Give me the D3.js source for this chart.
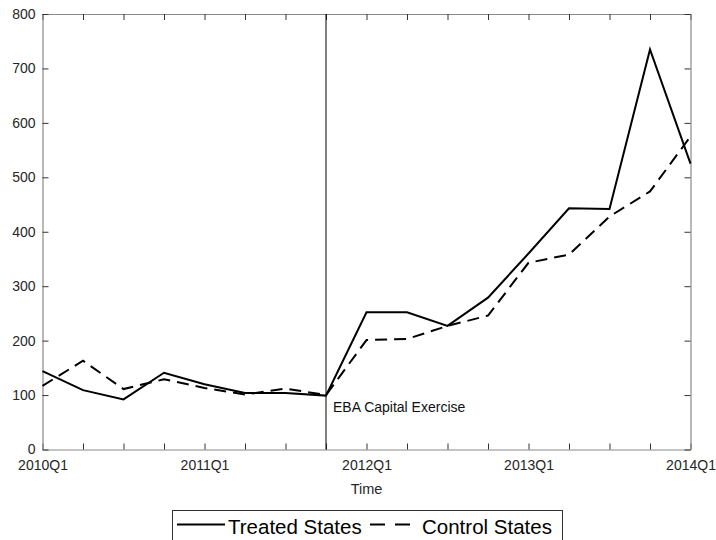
<!DOCTYPE html>
<html>
<head>
<meta charset="utf-8">
<script src="https://cdn.jsdelivr.net/npm/d3@7"></script>
<style>
  body { margin: 0; background: #fff; }
  text { font-family: "Liberation Sans", Arial, sans-serif; }
</style>
</head>
<body>
<div id="chart"></div>
<script>
const quarters = ["2010Q1","2010Q2","2010Q3","2010Q4","2011Q1","2011Q2","2011Q3","2011Q4",
                  "2012Q1","2012Q2","2012Q3","2012Q4","2013Q1","2013Q2","2013Q3","2013Q4","2014Q1"];
const treated = [144, 109, 92, 141, 120, 104, 104, 99, 252, 252, 227, 279, 360, 443, 442, 735, 525];
const control = [117, 163, 111, 129, 113, 101, 112, 100, 201, 203, 227, 246, 343, 358, 428, 474, 575];
const yTicks = [0, 100, 200, 300, 400, 500, 600, 700, 800];
const eventQuarter = "2011Q4";

function createLineChart() {
    const w = 716, h = 540;
    const left = 42.5, right = 690.5, top = 14, bottom = 449.5;

    const svg = d3.select("#chart").append("svg")
        .attr("width", w).attr("height", h);

    const x = d3.scaleLinear().domain([0, quarters.length - 1]).range([left, right]);
    const y = d3.scaleLinear().domain([0, 800]).range([bottom, top]);

    const idx = d3.range(quarters.length);
    const fmt = i => quarters[i].endsWith("Q1") ? quarters[i] : "";

    /* AXES */
    const styleAxis = g => {
        g.select(".domain").attr("stroke", "#8a8a8a").attr("stroke-width", 1.2);
        g.selectAll(".tick line").attr("stroke", "#333");
        g.selectAll(".tick text").attr("fill", "#262626").style("font-size", "14px");
    };

    svg.append("g").attr("transform", `translate(0,${bottom})`)
        .call(d3.axisBottom(x).tickValues(idx).tickFormat(fmt).tickSize(-6).tickSizeOuter(0).tickPadding(11))
        .call(styleAxis);
    svg.append("g").attr("transform", `translate(0,${top})`)
        .call(d3.axisTop(x).tickValues(idx).tickFormat("").tickSize(-6).tickSizeOuter(0))
        .call(styleAxis);
    svg.append("g").attr("transform", `translate(${left},0)`)
        .call(d3.axisLeft(y).tickValues(yTicks).tickSize(-6).tickSizeOuter(0).tickPadding(7))
        .call(styleAxis);
    svg.append("g").attr("transform", `translate(${right},0)`)
        .call(d3.axisRight(y).tickValues(yTicks).tickFormat("").tickSize(-6).tickSizeOuter(0))
        .call(styleAxis);

    /* EVENT LINE */
    const ev = x(quarters.indexOf(eventQuarter));
    svg.append("line")
        .attr("x1", ev).attr("x2", ev).attr("y1", top).attr("y2", bottom)
        .attr("stroke", "#000").attr("stroke-width", 1);
    svg.append("text")
        .attr("x", ev + 7).attr("y", 411.5)
        .style("font-size", "14px").attr("fill", "#111")
        .text("EBA Capital Exercise");

    /* LINES */
    const line = d3.line().x((d, i) => x(i)).y(d => y(d));
    svg.append("path").attr("d", line(control))
        .attr("fill", "none").attr("stroke", "#000").attr("stroke-width", 2)
        .attr("stroke-dasharray", "12,7");
    svg.append("path").attr("d", line(treated))
        .attr("fill", "none").attr("stroke", "#000").attr("stroke-width", 2);

    /* AXIS TITLE */
    svg.append("text")
        .attr("x", (left + right) / 2).attr("y", 494)
        .attr("text-anchor", "middle")
        .style("font-size", "14.5px").attr("fill", "#262626")
        .text("Time");

    /* LEGEND */
    const lg = svg.append("g");
    lg.append("rect")
        .attr("x", 172.5).attr("y", 510.5).attr("width", 390).attr("height", 35)
        .attr("fill", "#fff").attr("stroke", "#333").attr("stroke-width", 1);
    lg.append("line").attr("x1", 177).attr("x2", 225).attr("y1", 524.5).attr("y2", 524.5)
        .attr("stroke", "#000").attr("stroke-width", 2);
    lg.append("text").attr("x", 228).attr("y", 533.5)
        .style("font-size", "20.5px").attr("fill", "#000").text("Treated States");
    lg.append("line").attr("x1", 370).attr("x2", 411).attr("y1", 524.5).attr("y2", 524.5)
        .attr("stroke", "#000").attr("stroke-width", 2).attr("stroke-dasharray", "15,10");
    lg.append("text").attr("x", 422).attr("y", 533.5)
        .style("font-size", "20.5px").attr("fill", "#000").text("Control States");
}

createLineChart();
</script>
</body>
</html>
